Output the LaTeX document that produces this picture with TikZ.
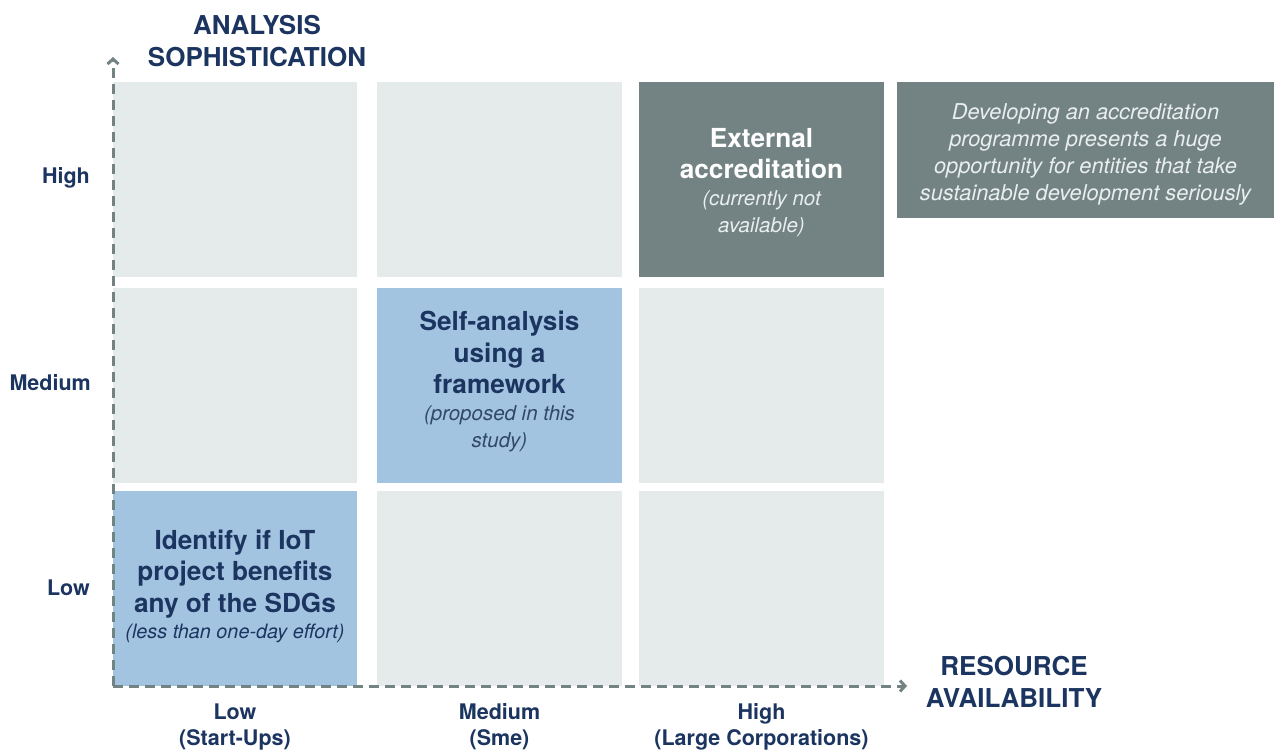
\documentclass[tikz,border=0pt]{standalone}
\usepackage{fontspec}
\setmainfont{TeX Gyre Heros}
\usetikzlibrary{arrows.meta}
\definecolor{navy}{HTML}{1C3560}
\definecolor{cellgrey}{HTML}{E5EAEA}
\definecolor{cellblue}{HTML}{A3C4E1}
\definecolor{slate}{HTML}{738383}
\definecolor{paletext}{HTML}{E9EEEE}
% natural inter-word spaces inside the centred text blocks
\newcommand\natspace{\spaceskip=0pt\xspaceskip=0pt\relax}
\newcommand\cellhead{\bfseries\fontsize{26.2}{31.5}\selectfont\natspace}
\newcommand\cellnote{\itshape\fontsize{20.5}{27}\selectfont\natspace}
\newcommand\smallnote{\itshape\fontsize{19.8}{26.5}\selectfont\natspace}
\newcommand\axishead{\bfseries\fontsize{26}{32}\selectfont\natspace}
\newcommand\ticklabel{\bfseries\fontsize{21.5}{26}\selectfont\natspace}
\begin{document}
\begin{tikzpicture}[x=1pt,y=-1pt,
  cell/.style={fill=cellgrey, inner sep=0pt, minimum width=244.5pt, minimum height=195pt},
  bluecell/.style={cell, fill=cellblue},
  darkcell/.style={cell, fill=slate},
  celltext/.style={text width=242pt, align=flush center, inner sep=0pt},
  axis/.style={draw=slate, line width=3pt, dash pattern=on 10pt off 6pt,
    -{Straight Barb[length=5pt,width=11pt]}},
  tick/.style={text=navy, font=\ticklabel, align=center, inner sep=0pt},
  axistitle/.style={text=navy, font=\axishead, align=center, inner sep=0pt}]
\useasboundingbox (0,0) rectangle (1274,752);

% 3x3 grid of cells: rows top (high) to bottom (low), columns left (low) to right (high)
\node[cell]     (r1c1) at (235,179.5) {};
\node[cell]     (r1c2) at (499.5,179.5) {};
\node[darkcell] (r1c3) at (761.5,179.5) {};
\node[cell]     (r2c1) at (235,385.5) {};
\node[bluecell] (r2c2) at (499.5,385.5) {};
\node[cell]     (r2c3) at (761.5,385.5) {};
\node[bluecell] (r3c1) at (235,588.5) {};
\node[cell]     (r3c2) at (499.5,588.5) {};
\node[cell]     (r3c3) at (761.5,588.5) {};

% side note
\node[fill=slate, inner sep=0pt, minimum width=377pt, minimum height=136pt] (note) at (1085.5,150) {};
\node[text width=374pt, align=flush center, inner sep=0pt, text=paletext,
  font=\itshape\fontsize{21.8}{27}\selectfont\natspace] (notetext) at ([yshift=-4pt]note.center)
  {Developing an accreditation\\ programme presents a huge\\ opportunity for entities that take\\ sustainable development seriously};

% cell contents
\node[celltext, text=navy] (t31) at ([yshift=2pt]r3c1.center)
  {{\cellhead Identify if IoT\\ project benefits\\ any of the SDGs\par}
   {\smallnote (less than one-day effort)\par}};
\node[celltext, text=navy] (t22) at ([yshift=4pt]r2c2.center)
  {{\cellhead Self-analysis\\ using a\\ framework\par}
   {\cellnote\color{navy!75!slate} (proposed in this\\ study)\par}};
\node[celltext, text=white] (t13) at ([yshift=-3pt]r1c3.center)
  {{\cellhead External\\ accreditation\par}
   {\cellnote\color{paletext} (currently not\\ available)\par}};

% axes
\coordinate (origin) at (113,686);
\coordinate (ytip) at (113,57);
\coordinate (xtip) at (907,686);
\draw[axis] (origin) -- (ytip);
\draw[axis] (origin) -- (xtip);

% axis titles
\node[axistitle] (ytitle) at (257,41) {ANALYSIS\\ SOPHISTICATION};
\node[axistitle] (xtitle) at (1014,682) {RESOURCE\\ AVAILABILITY};

% row labels
\node[tick, anchor=east] (yhigh) at (90,178) {High};
\node[tick, anchor=east] (ymed) at (91,383) {Medium};
\node[tick, anchor=east] (ylow) at (90,588) {Low};

% column labels
\node[tick] (xlow) at (235,727) {Low\\ (Start-Ups)};
\node[tick] (xmed) at (499.5,727) {Medium\\ (Sme)};
\node[tick] (xhigh) at (761.5,727) {High\\ (Large Corporations)};
\end{tikzpicture}
\end{document}
